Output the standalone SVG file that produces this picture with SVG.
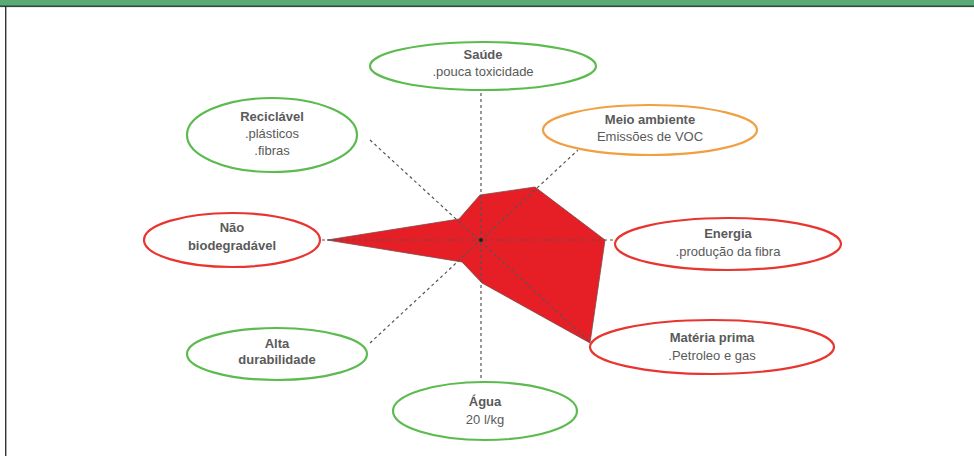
<svg xmlns="http://www.w3.org/2000/svg" width="974" height="456" viewBox="0 0 974 456">
  <style>
    .node ellipse { fill: #ffffff; stroke-width: 2.2; }
    .green ellipse { stroke: #5cbb4e; }
    .red ellipse { stroke: #e8352f; }
    .orange ellipse { stroke: #f0a040; }
    text { font-family: "Liberation Sans", Arial, sans-serif; font-size: 13px; fill: #5a5a5a; text-anchor: middle; }
    .t { font-weight: bold; }
    .axis { stroke: #555555; stroke-width: 1.2; stroke-dasharray: 3 3; fill: none; }
  </style>

  <!-- frame -->
  <rect x="0" y="0" width="974" height="456" fill="#ffffff"/>
  <rect x="0" y="0" width="974" height="6" fill="#5aaa78"/>
  <rect x="0" y="5.5" width="974" height="1.6" fill="#2e4a3a"/>
  <rect x="5" y="6" width="1.4" height="450" fill="#333333"/>

  <!-- radar area -->
  <polygon points="327,240 459,219 480,195 535,187 605,240 590,343 482,283 462,262" fill="#e61f27" stroke="#7a4a4a" stroke-width="0.8"/>

  <!-- axes -->
  <g id="connectors">
    <line class="axis" x1="481" y1="93" x2="481" y2="382"/>
    <line class="axis" x1="322" y1="240" x2="613" y2="240"/>
    <line class="axis" x1="370" y1="140" x2="590" y2="342"/>
    <line class="axis" x1="370" y1="343" x2="578" y2="150"/>
  </g>
  <circle cx="481" cy="240" r="2" fill="#222222"/>

  <g id="saude" class="node green">
    <ellipse cx="483" cy="66" rx="113" ry="24"/>
    <text class="t" x="483" y="59">Saúde</text>
    <text x="483" y="76">.pouca toxicidade</text>
  </g>

  <g id="reciclavel" class="node green">
    <ellipse cx="272" cy="135" rx="85" ry="37"/>
    <text class="t" x="272" y="121">Reciclável</text>
    <text x="272" y="138">.plásticos</text>
    <text x="272" y="155">.fibras</text>
  </g>

  <g id="meio-ambiente" class="node orange">
    <ellipse cx="650" cy="130" rx="107" ry="25"/>
    <text class="t" x="650" y="124">Meio ambiente</text>
    <text x="650" y="141">Emissões de VOC</text>
  </g>

  <g id="nao-biodegradavel" class="node red">
    <ellipse cx="232" cy="240" rx="88" ry="27"/>
    <text class="t" x="232" y="232">Não</text>
    <text class="t" x="232" y="250">biodegradável</text>
  </g>

  <g id="energia" class="node red">
    <ellipse cx="728" cy="244" rx="113" ry="26"/>
    <text class="t" x="728" y="238">Energia</text>
    <text x="728" y="256">.produção da fibra</text>
  </g>

  <g id="alta-durabilidade" class="node green">
    <ellipse cx="277" cy="354" rx="90" ry="26"/>
    <text class="t" x="277" y="348">Alta</text>
    <text class="t" x="277" y="364">durabilidade</text>
  </g>

  <g id="materia-prima" class="node red">
    <ellipse cx="712" cy="347" rx="122" ry="27"/>
    <text class="t" x="712" y="342">Matéria prima</text>
    <text x="712" y="360">.Petroleo e gas</text>
  </g>

  <g id="agua" class="node green">
    <ellipse cx="485" cy="411" rx="92" ry="29"/>
    <text class="t" x="485" y="406">Água</text>
    <text x="485" y="424">20 l/kg</text>
  </g>
</svg>
